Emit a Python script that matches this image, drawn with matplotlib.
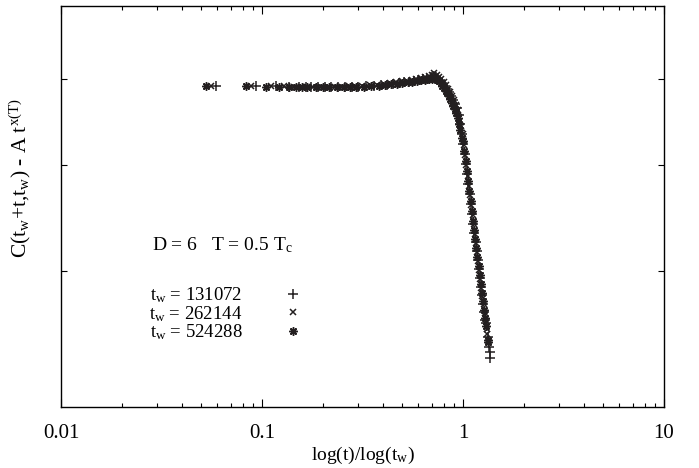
import matplotlib
matplotlib.use("Agg")
import matplotlib.pyplot as plt

plt.rcParams['font.family'] = ['Liberation Serif', 'DejaVu Serif']
plt.rcParams['mathtext.default'] = 'regular'

# t_w = 131072  (+)
x_plus = [0.059, 0.093, 0.118, 0.137, 0.152, 0.165, 0.176, 0.19, 0.205, 0.22, 0.24, 0.26,
          0.28, 0.30, 0.33, 0.36, 0.39, 0.42, 0.45, 0.48, 0.51, 0.54, 0.57, 0.60, 0.63,
          0.66, 0.69, 0.71, 0.73, 0.75, 0.77, 0.79, 0.81, 0.83, 0.85, 0.87, 0.89, 0.91,
          0.93, 0.95, 0.97, 0.99, 1.005, 1.02, 1.035, 1.05, 1.065, 1.08, 1.095, 1.11,
          1.125, 1.14, 1.155, 1.17, 1.185, 1.20, 1.215, 1.23, 1.245, 1.26, 1.275, 1.29,
          1.30, 1.33, 1.345, 1.355, 1.36]
y_plus = [0.800, 0.800, 0.800, 0.799, 0.799, 0.799, 0.798, 0.798, 0.798, 0.798, 0.798, 0.798,
          0.799, 0.799, 0.800, 0.801, 0.802, 0.804, 0.806, 0.808, 0.810, 0.811, 0.813, 0.815, 0.817,
          0.819, 0.822, 0.825, 0.824, 0.820, 0.815, 0.809, 0.801, 0.793, 0.785, 0.775, 0.765, 0.755,
          0.745, 0.728, 0.705, 0.680, 0.657, 0.631, 0.606, 0.580, 0.555, 0.530, 0.505, 0.481,
          0.457, 0.434, 0.411, 0.388, 0.366, 0.344, 0.322, 0.300, 0.279, 0.257, 0.237, 0.216,
          0.209, 0.175, 0.150, 0.137, 0.122]

# t_w = 262144  (x)
x_cross = [0.0556, 0.088, 0.111, 0.129, 0.144, 0.156, 0.167, 0.18, 0.197, 0.213, 0.23, 0.25,
           0.27, 0.29, 0.315, 0.345, 0.375, 0.405, 0.435, 0.465, 0.495, 0.525, 0.555, 0.585,
           0.615, 0.645, 0.675, 0.70, 0.72, 0.74, 0.76, 0.78, 0.80, 0.82, 0.84, 0.86, 0.88,
           0.90, 0.92, 0.94, 0.96, 0.98, 0.995, 1.01, 1.025, 1.04, 1.055, 1.07, 1.085, 1.10,
           1.115, 1.13, 1.145, 1.16, 1.175, 1.19, 1.205, 1.22, 1.235, 1.25, 1.265, 1.28,
           1.295, 1.31, 1.32]
y_cross = [0.800, 0.800, 0.800, 0.800, 0.799, 0.799, 0.799, 0.799, 0.798, 0.798, 0.799, 0.799,
           0.800, 0.800, 0.801, 0.802, 0.804, 0.806, 0.808, 0.810, 0.812, 0.814, 0.816, 0.818,
           0.820, 0.823, 0.826, 0.829, 0.832, 0.829, 0.824, 0.818, 0.810, 0.802, 0.794, 0.785,
           0.775, 0.765, 0.754, 0.740, 0.722, 0.700, 0.680, 0.654, 0.628, 0.603, 0.577, 0.552,
           0.528, 0.503, 0.479, 0.456, 0.432, 0.409, 0.387, 0.364, 0.342, 0.320, 0.298, 0.277,
           0.256, 0.235, 0.214, 0.194, 0.181]

# t_w = 524288  (*)
x_star = [0.0526, 0.0834, 0.105, 0.122, 0.136, 0.148, 0.158, 0.168, 0.185, 0.20, 0.215, 0.235,
          0.255, 0.275, 0.295, 0.32, 0.35, 0.38, 0.41, 0.44, 0.47, 0.50, 0.53, 0.56, 0.59,
          0.62, 0.65, 0.68, 0.70, 0.715, 0.73, 0.745, 0.76, 0.775, 0.79, 0.805, 0.82, 0.835,
          0.85, 0.865, 0.88, 0.895, 0.91, 0.925, 0.94, 0.955, 0.97, 0.985, 1.00, 1.015, 1.03,
          1.045, 1.06, 1.075, 1.09, 1.105, 1.12, 1.135, 1.15, 1.165, 1.18, 1.195, 1.21,
          1.225, 1.24, 1.255, 1.27, 1.285, 1.30, 1.325, 1.33]
y_star = [0.800, 0.800, 0.799, 0.799, 0.799, 0.798, 0.798, 0.798, 0.797, 0.797, 0.797, 0.797,
          0.797, 0.798, 0.798, 0.799, 0.800, 0.801, 0.803, 0.805, 0.806, 0.808, 0.810, 0.811, 0.813,
          0.815, 0.816, 0.818, 0.819, 0.820, 0.819, 0.816, 0.812, 0.807, 0.801, 0.795, 0.789, 0.782,
          0.775, 0.767, 0.759, 0.751, 0.742, 0.732, 0.720, 0.706, 0.690, 0.672, 0.664, 0.639, 0.613,
          0.588, 0.563, 0.538, 0.513, 0.489, 0.465, 0.442, 0.418, 0.396, 0.373, 0.351, 0.328,
          0.307, 0.285, 0.264, 0.243, 0.222, 0.202, 0.168, 0.161]

labels = ['$t_w$ = 131072', '$t_w$ = 262144', '$t_w$ = 524288']
ytick_pos = [0.339, 0.603, 0.818]
xticks = [0.01, 0.1, 1, 10]
xtick_labels = ['0.01', '0.1', '1', '10']

col = '#231f20'
asterisk = (8, 2, 0)

fig = plt.figure(figsize=(6.99, 4.68), dpi=100)
ax = fig.add_axes([61 / 699, 61 / 468, 603 / 699, 401 / 468])

ax.plot(x_star, y_star, ls='none', marker=asterisk, ms=6, mew=1.1, color=col, label=labels[2])
ax.plot(x_cross, y_cross, ls='none', marker='x', ms=5, mew=1.1, color=col, label=labels[1])
ax.plot(x_plus, y_plus, ls='none', marker='+', ms=6.5, mew=1.1, color=col, label=labels[0])

ax.set_xscale('log')
ax.set_xlim(0.01, 10)
ax.set_ylim(0, 1)
ax.set_xticks(xticks)
ax.set_xticklabels(xtick_labels, fontsize=15)
ax.set_yticks(ytick_pos)
ax.set_yticklabels([])
ax.tick_params(which='both', direction='in', top=True, right=True, width=0.8)
ax.tick_params(which='major', length=6, pad=12)
ax.tick_params(which='minor', length=3)
ax.tick_params(axis='y', length=4)
for s in ax.spines.values():
    s.set_linewidth(1.0)

ax.set_xlabel('log(t)/log($t_w$)', fontsize=14, labelpad=1.5)
ax.set_ylabel('C($t_w$+t,$t_w$) - A t$^{x(T)}$', fontsize=15.5)
ax.yaxis.set_label_coords(-0.047, 0.57)

ax.text(0.151, 0.404, 'D = 6   T = 0.5 $T_c$', transform=ax.transAxes, fontsize=14, va='center')

# gnuplot-style key: text first, symbol after
h, l = ax.get_legend_handles_labels()
ax.legend(h[::-1], l[::-1], loc='upper left', bbox_to_anchor=(0.134, 0.322), frameon=False,
          markerfirst=False, fontsize=13.5, handlelength=1.0, handletextpad=2.2,
          labelspacing=-0.06, borderaxespad=0)

fig.savefig('out.png', dpi=100)
